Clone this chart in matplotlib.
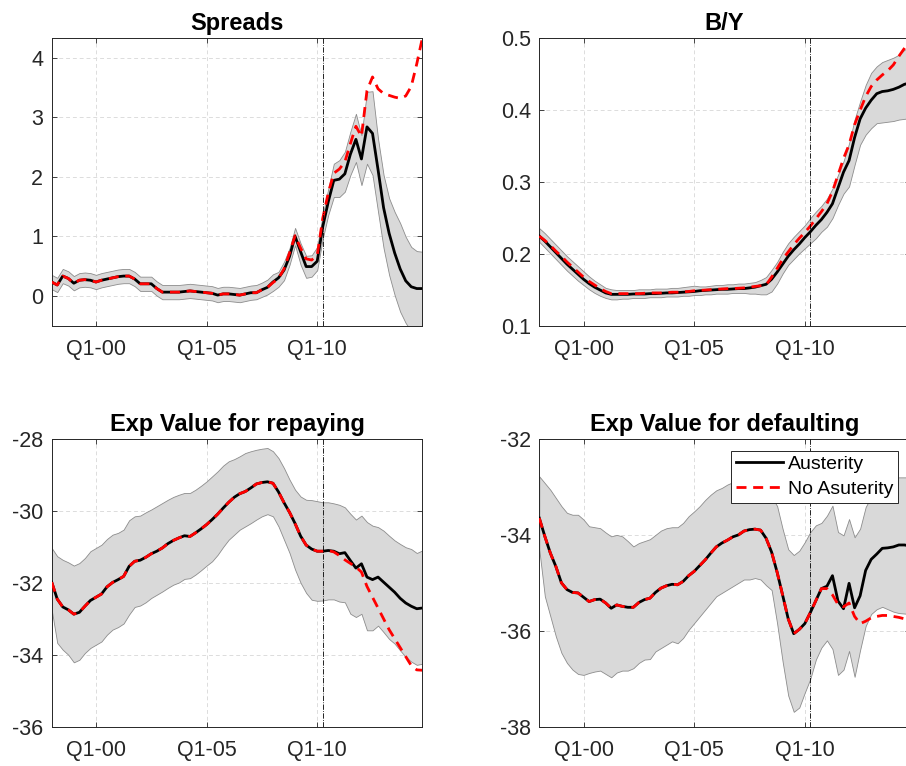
import matplotlib
matplotlib.use("Agg")
import matplotlib.pyplot as plt
import numpy as np

plt.rcParams['font.family'] = ['Liberation Sans', 'DejaVu Sans']

# quarters: index 1 = Q1-98 ... 68 = Q4-14
quarters = list(range(1, 69))
tick_pos = [9, 29, 49]
tick_labels = ['Q1-00', 'Q1-05', 'Q1-10']
policy_q = 50  # Q2-10

# ---------------- Spreads ----------------
spr_aus = [0.23,0.18,0.33,0.29,0.21,0.26,0.27,0.26,0.23,0.26,0.28,0.30,0.32,0.33,0.33,0.28,0.20,0.20,0.20,0.12,
           0.06,0.06,0.06,0.06,0.07,0.08,0.07,0.06,0.05,0.04,0.01,0.03,0.03,0.02,0.01,0.03,0.05,0.05,0.10,0.14,
           0.23,0.30,0.43,0.66,1.00,0.74,0.49,0.49,0.58,1.16,1.58,1.94,1.96,2.05,2.38,2.63,2.30,2.84,2.73,2.12,
           1.48,1.05,0.72,0.45,0.25,0.15,0.12,0.12]
spr_noaus = [0.23,0.18,0.33,0.29,0.21,0.26,0.27,0.26,0.23,0.26,0.28,0.30,0.32,0.33,0.33,0.28,0.20,0.20,0.20,0.12,
             0.06,0.06,0.06,0.06,0.07,0.08,0.07,0.06,0.05,0.04,0.01,0.03,0.03,0.02,0.01,0.03,0.05,0.05,0.10,0.14,
             0.22,0.29,0.45,0.72,1.01,0.80,0.62,0.60,0.68,1.30,1.73,2.06,2.13,2.25,2.56,2.85,2.68,3.45,3.68,3.48,
             3.40,3.37,3.34,3.32,3.36,3.52,3.90,4.33]
spr_hi = [0.35,0.30,0.45,0.41,0.33,0.38,0.39,0.38,0.35,0.38,0.40,0.42,0.44,0.45,0.45,0.40,0.32,0.32,0.32,0.24,
          0.18,0.18,0.18,0.18,0.19,0.20,0.19,0.18,0.17,0.16,0.13,0.15,0.15,0.14,0.13,0.15,0.17,0.18,0.22,0.27,
          0.36,0.40,0.57,0.80,1.14,0.88,0.67,0.68,0.82,1.36,1.80,2.22,2.28,2.42,2.76,3.06,2.70,3.43,3.44,2.64,
          2.03,1.64,1.41,1.22,0.99,0.82,0.75,0.74]
spr_lo = [0.11,0.06,0.21,0.17,0.09,0.14,0.15,0.14,0.11,0.14,0.16,0.18,0.20,0.21,0.21,0.16,0.08,0.08,0.08,0.00,
          -0.06,-0.06,-0.06,-0.06,-0.05,-0.04,-0.05,-0.06,-0.07,-0.08,-0.11,-0.09,-0.09,-0.10,-0.11,-0.09,-0.07,-0.06,-0.02,0.02,
          0.08,0.15,0.26,0.52,0.85,0.52,0.30,0.32,0.43,0.96,1.36,1.66,1.66,1.75,2.03,2.25,1.86,2.22,2.03,1.41,
          0.80,0.35,0.01,-0.27,-0.46,-0.60,-0.66,-0.66]

# ---------------- B/Y ----------------
by_aus = [0.225,0.218,0.210,0.202,0.194,0.186,0.179,0.172,0.165,0.159,0.154,0.150,0.146,0.144,0.144,0.144,0.144,0.1445,0.1445,0.1445,
          0.145,0.145,0.1455,0.146,0.146,0.1465,0.147,0.1475,0.148,0.149,0.1495,0.150,0.1505,0.151,0.151,0.1515,0.152,0.152,0.153,0.154,
          0.156,0.158,0.165,0.175,0.186,0.197,0.206,0.214,0.223,0.231,0.240,0.248,0.258,0.270,0.292,0.314,0.330,0.362,0.388,0.403,
          0.414,0.423,0.426,0.427,0.429,0.432,0.436,0.438]
by_noaus = [0.225,0.219,0.212,0.204,0.197,0.189,0.182,0.175,0.168,0.162,0.157,0.152,0.148,0.145,0.145,0.145,0.145,0.145,0.145,0.1455,
            0.146,0.146,0.146,0.1465,0.147,0.147,0.1475,0.148,0.149,0.1495,0.150,0.1505,0.151,0.1515,0.152,0.152,0.1525,0.153,0.154,0.155,
            0.156,0.157,0.168,0.180,0.193,0.203,0.213,0.222,0.230,0.239,0.249,0.259,0.270,0.287,0.310,0.333,0.352,0.380,0.400,0.419,
            0.433,0.442,0.449,0.455,0.463,0.475,0.486,0.497]
by_hi = [0.236,0.229,0.221,0.213,0.205,0.197,0.190,0.183,0.176,0.169,0.163,0.158,0.153,0.151,0.150,0.150,0.150,0.150,0.151,0.151,
         0.151,0.152,0.152,0.152,0.153,0.153,0.154,0.155,0.156,0.155,0.155,0.156,0.157,0.157,0.158,0.158,0.159,0.159,0.160,0.161,
         0.164,0.168,0.178,0.189,0.203,0.215,0.224,0.232,0.240,0.250,0.259,0.267,0.277,0.291,0.310,0.329,0.354,0.387,0.412,0.435,
         0.452,0.461,0.467,0.470,0.473,0.477,0.484,0.488]
by_lo = [0.217,0.209,0.201,0.193,0.185,0.177,0.170,0.163,0.157,0.151,0.146,0.142,0.139,0.137,0.137,0.138,0.138,0.139,0.139,0.139,
         0.140,0.140,0.140,0.141,0.141,0.141,0.142,0.142,0.143,0.143,0.144,0.144,0.145,0.145,0.145,0.146,0.146,0.146,0.145,0.145,
         0.144,0.144,0.148,0.159,0.173,0.185,0.193,0.201,0.208,0.215,0.222,0.231,0.238,0.250,0.268,0.284,0.294,0.324,0.352,0.366,
         0.375,0.382,0.383,0.384,0.385,0.387,0.388,0.389]

# ---------------- Exp Value for repaying ----------------
rep_aus = [-31.98,-32.45,-32.67,-32.75,-32.87,-32.82,-32.65,-32.49,-32.40,-32.31,-32.11,-31.99,-31.91,-31.82,-31.54,-31.40,-31.37,-31.29,-31.19,-31.12,
           -31.03,-30.91,-30.82,-30.75,-30.69,-30.71,-30.61,-30.50,-30.38,-30.24,-30.09,-29.92,-29.76,-29.62,-29.52,-29.46,-29.36,-29.25,-29.21,-29.19,
           -29.23,-29.47,-29.77,-30.04,-30.35,-30.70,-30.95,-31.06,-31.12,-31.12,-31.10,-31.12,-31.19,-31.16,-31.38,-31.59,-31.47,-31.84,-31.91,-31.84,
           -31.98,-32.12,-32.26,-32.43,-32.56,-32.65,-32.72,-32.70]
rep_noaus = [-31.98,-32.45,-32.67,-32.75,-32.87,-32.82,-32.65,-32.49,-32.40,-32.31,-32.11,-31.99,-31.91,-31.82,-31.54,-31.40,-31.37,-31.29,-31.19,-31.12,
             -31.03,-30.91,-30.82,-30.75,-30.69,-30.71,-30.61,-30.50,-30.38,-30.24,-30.09,-29.92,-29.76,-29.62,-29.52,-29.46,-29.36,-29.25,-29.21,-29.19,
             -29.23,-29.47,-29.77,-30.04,-30.35,-30.70,-30.95,-31.06,-31.12,-31.12,-31.10,-31.14,-31.24,-31.36,-31.46,-31.56,-31.70,-32.10,-32.40,-32.70,
             -33.00,-33.30,-33.55,-33.80,-34.05,-34.30,-34.42,-34.43]
rep_hi = [-31.03,-31.26,-31.36,-31.43,-31.52,-31.45,-31.31,-31.12,-31.03,-30.94,-30.78,-30.66,-30.61,-30.52,-30.26,-30.15,-30.13,-30.04,-29.96,-29.87,
          -29.78,-29.69,-29.61,-29.55,-29.50,-29.50,-29.41,-29.30,-29.18,-29.04,-28.90,-28.74,-28.62,-28.56,-28.48,-28.39,-28.34,-28.30,-28.27,-28.25,
          -28.34,-28.53,-28.81,-29.13,-29.41,-29.60,-29.69,-29.70,-29.73,-29.76,-29.76,-29.79,-29.83,-29.90,-30.08,-30.24,-30.13,-30.31,-30.41,-30.45,
          -30.55,-30.69,-30.82,-30.92,-31.01,-31.06,-31.17,-31.10]
rep_lo = [-32.75,-33.67,-33.86,-34.00,-34.21,-34.14,-33.95,-33.81,-33.72,-33.63,-33.44,-33.30,-33.23,-33.13,-32.88,-32.67,-32.63,-32.54,-32.42,-32.33,
          -32.24,-32.14,-32.05,-31.99,-31.89,-31.87,-31.77,-31.65,-31.52,-31.40,-31.22,-31.00,-30.80,-30.66,-30.52,-30.43,-30.34,-30.24,-30.15,-30.09,
          -30.15,-30.43,-30.80,-31.17,-31.63,-32.00,-32.28,-32.47,-32.50,-32.49,-32.46,-32.46,-32.52,-32.54,-32.86,-32.95,-32.86,-33.32,-33.32,-33.19,
          -33.37,-33.56,-33.69,-33.88,-34.06,-34.19,-34.28,-34.25]

# ---------------- Exp Value for defaulting ----------------
def_aus = [-33.65,-34.03,-34.38,-34.66,-35.00,-35.14,-35.20,-35.21,-35.30,-35.39,-35.35,-35.34,-35.42,-35.53,-35.46,-35.49,-35.51,-35.51,-35.41,-35.35,
           -35.32,-35.20,-35.11,-35.06,-35.03,-35.04,-34.97,-34.85,-34.76,-34.64,-34.52,-34.38,-34.25,-34.17,-34.11,-34.04,-34.00,-33.92,-33.89,-33.88,
           -33.90,-34.07,-34.36,-34.78,-35.26,-35.75,-36.06,-35.97,-35.85,-35.62,-35.37,-35.12,-35.07,-34.85,-35.38,-35.54,-35.01,-35.52,-35.27,-34.74,
           -34.51,-34.40,-34.28,-34.27,-34.25,-34.21,-34.21,-34.23]
def_noaus = [-33.65,-34.03,-34.38,-34.66,-35.00,-35.14,-35.20,-35.21,-35.30,-35.39,-35.35,-35.34,-35.42,-35.53,-35.46,-35.49,-35.51,-35.51,-35.41,-35.35,
             -35.32,-35.20,-35.11,-35.06,-35.03,-35.04,-34.97,-34.85,-34.76,-34.64,-34.52,-34.38,-34.25,-34.17,-34.11,-34.04,-34.00,-33.92,-33.89,-33.88,
             -33.90,-34.07,-34.36,-34.78,-35.26,-35.75,-36.06,-35.97,-35.85,-35.62,-35.37,-35.12,-35.12,-35.25,-35.45,-35.50,-35.42,-35.70,-35.85,-35.80,
             -35.73,-35.70,-35.68,-35.68,-35.70,-35.72,-35.75,-35.77]
def_hi = [-32.78,-32.92,-33.06,-33.23,-33.40,-33.54,-33.58,-33.58,-33.68,-33.82,-33.84,-33.86,-33.95,-34.03,-34.00,-34.03,-34.13,-34.24,-34.17,-34.13,
          -34.09,-34.00,-33.91,-33.86,-33.84,-33.84,-33.75,-33.61,-33.51,-33.40,-33.27,-33.16,-33.07,-33.02,-32.95,
          -32.90,-32.85,-32.80,-32.78,-32.78,-32.82,-33.00,-33.20,-33.40,-33.88,-34.30,-34.42,-34.33,-34.15,-33.94,-33.80,-33.75,-33.60,-33.39,
          -33.94,-34.01,-33.67,-34.05,-33.87,-33.42,-33.20,-33.00,-32.90,-32.85,-32.80,-32.80,-32.80,-32.80]
def_lo = [-34.31,-35.28,-35.70,-36.12,-36.46,-36.67,-36.81,-36.90,-36.92,-36.88,-36.85,-36.83,-36.90,-36.97,-36.87,-36.83,-36.83,-36.78,-36.67,-36.60,
          -36.59,-36.43,-36.36,-36.29,-36.22,-36.26,-36.15,-35.98,-35.84,-35.70,-35.56,-35.42,-35.28,-35.21,-35.14,-35.07,-35.00,-34.93,-34.93,-34.90,
          -34.93,-35.05,-35.15,-35.85,-36.65,-37.35,-37.69,-37.60,-37.29,-37.00,-36.60,-36.35,-36.20,-36.38,-36.92,-36.81,-36.42,-36.96,-36.40,-35.90,
          -35.65,-35.55,-35.50,-35.55,-35.60,-35.63,-35.64,-35.65]

panels = [
    dict(title='Spreads', aus=spr_aus, noaus=spr_noaus, lo=spr_lo, hi=spr_hi,
         ylim=(-0.51, 4.33), yticks=[0, 1, 2, 3, 4], fmt='{:g}'),
    dict(title='B/Y', aus=by_aus, noaus=by_noaus, lo=by_lo, hi=by_hi,
         ylim=(0.1, 0.5), yticks=[0.1, 0.2, 0.3, 0.4, 0.5], fmt='{:.1f}'),
    dict(title='Exp Value for repaying', aus=rep_aus, noaus=rep_noaus, lo=rep_lo, hi=rep_hi,
         ylim=(-36, -28), yticks=[-36, -34, -32, -30, -28], fmt='{:g}'),
    dict(title='Exp Value for defaulting', aus=def_aus, noaus=def_noaus, lo=def_lo, hi=def_hi,
         ylim=(-38, -32), yticks=[-38, -36, -34, -32], fmt='{:g}'),
]

W, H = 906, 766
fig = plt.figure(figsize=(W / 100, H / 100), dpi=100)

def rect(x0, x1, ytop, ybot):
    return [x0 / W, (H - ybot) / H, (x1 - x0) / W, (ybot - ytop) / H]

rects = [rect(51.7, 422.3, 38.3, 326.0), rect(539.3, 909.9, 38.3, 326.0),
         rect(51.7, 422.3, 439.0, 726.7), rect(539.3, 909.9, 439.0, 726.7)]

axc = '#262626'
x = np.array(quarters)
for k, p in enumerate(panels):
    ax = fig.add_axes(rects[k])
    ax.fill_between(x, p['lo'], p['hi'], facecolor='#d9d9d9', edgecolor='#8c8c8c', linewidth=0.6, zorder=2)
    l1, = ax.plot(x, p['aus'], color='black', linewidth=2.0, zorder=3, label='Austerity')
    l2, = ax.plot(x, p['noaus'], color='#ff0000', linewidth=2.0, linestyle=(0, (3.6, 2.4)), zorder=4, label='No Asuterity')
    ax.axvline(policy_q, color='black', linewidth=0.6, linestyle='-.', zorder=5)
    ax.set_xlim(1, 68)
    ax.set_ylim(*p['ylim'])
    ax.set_xticks(tick_pos)
    ax.set_xticklabels(tick_labels)
    ax.set_yticks(p['yticks'])
    ax.set_yticklabels([p['fmt'].format(v) for v in p['yticks']])
    ax.grid(True, color='#dcdcdc', linestyle=(0, (4, 3)), linewidth=0.7, zorder=1)
    ax.set_axisbelow(True)
    ax.tick_params(direction='in', length=3.5, width=0.6, colors=axc, labelsize=15.5,
                   top=True, right=True, pad=6)
    ax.tick_params(axis='x', pad=9.5)
    for s in ax.spines.values():
        s.set_color(axc)
        s.set_linewidth(0.7)
    ax.set_title(p['title'], fontsize=17, fontweight='bold', pad=6)
    if k == 3:
        ax.legend(handles=[l1, l2], loc='upper right', bbox_to_anchor=(0.968, 0.959),
                  borderaxespad=0, fontsize=14, frameon=True, fancybox=False,
                  edgecolor=axc, framealpha=1, handlelength=2.4, handletextpad=0.25,
                  borderpad=0.25, labelspacing=0.35)
        ax.get_legend().get_frame().set_linewidth(0.7)

fig.savefig('out.png', dpi=100)
